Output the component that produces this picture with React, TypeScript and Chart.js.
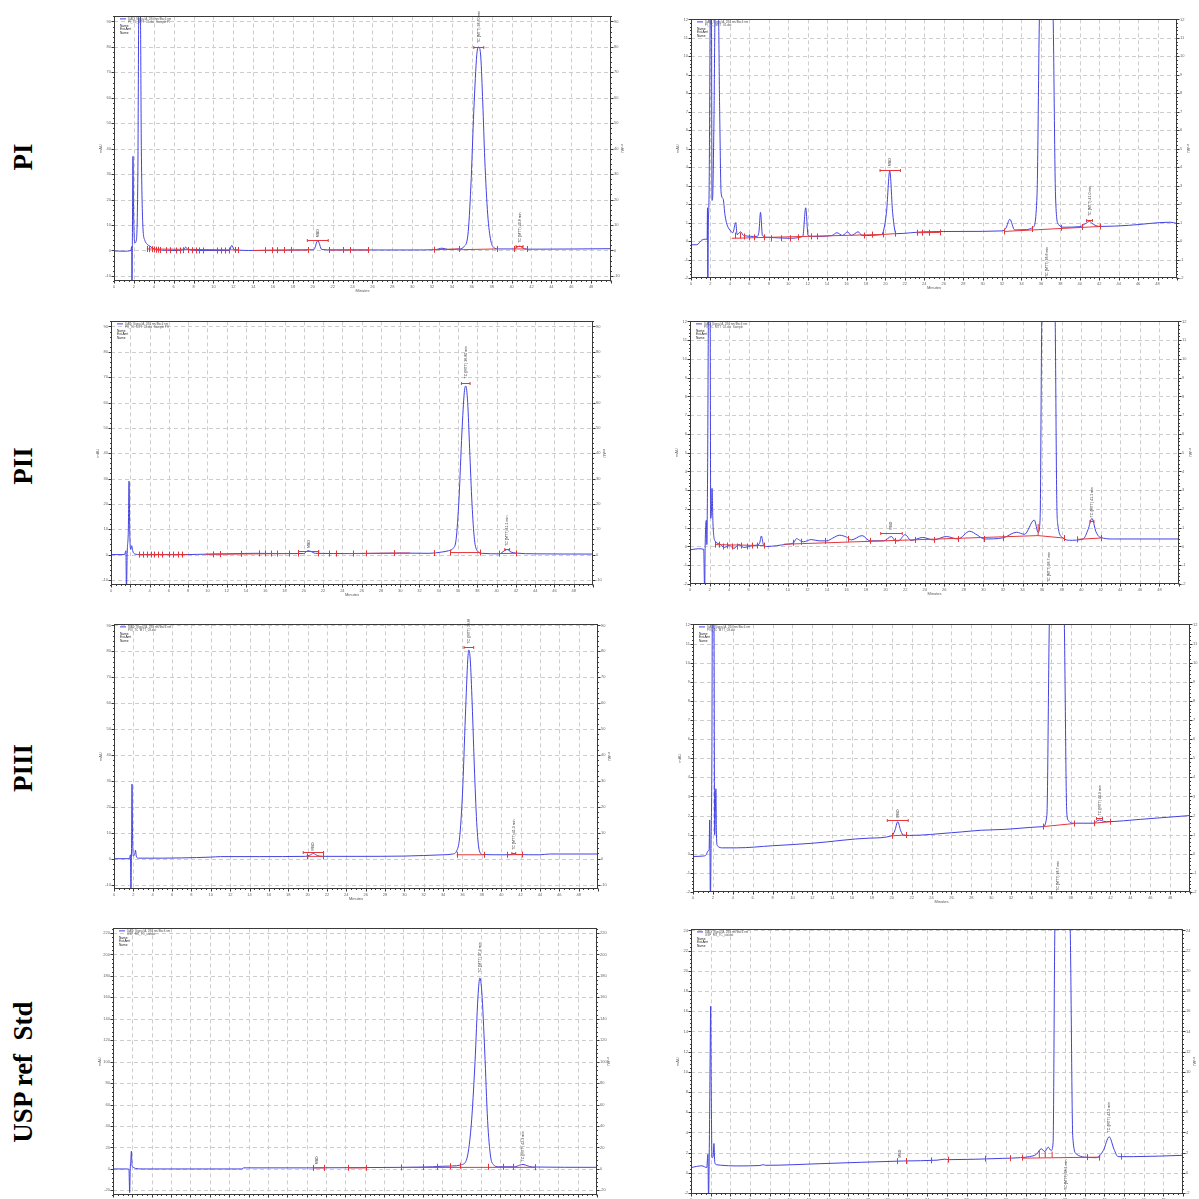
import { useEffect, useRef } from "react";
import { Chart, registerables } from "chart.js";

Chart.register(...registerables);

type Pt = [number, number];
type Seg = [number, number, number, number];
type Peak = { t: number; bar: number | null; hw: number; tv: number; text: string };

// ---------- axis tick values ----------
const minuteTicks = [0, 2, 4, 6, 8, 10, 12, 14, 16, 18, 20, 22, 24, 26, 28, 30, 32, 34, 36, 38, 40, 42, 44, 46, 48, 50];
const mauTicksWide = [-10, 0, 10, 20, 30, 40, 50, 60, 70, 80, 90];
const mauTicksZoom = [-2, -1, 0, 1, 2, 3, 4, 5, 6, 7, 8, 9, 10, 11, 12];
const mauTicksStd = [-20, 0, 20, 40, 60, 80, 100, 120, 140, 160, 180, 200, 220];
const mauTicksStdZoom = [-2, 0, 2, 4, 6, 8, 10, 12, 14, 16, 18, 20, 22, 24];

const rowLabels = ["PI", "PII", "PIII", "USP ref  Std"];

// ---------- PI, full scale ----------
const piFullTrace: Pt[] = [
  [0, -0.2], [1.0, -0.3], [1.7, 0], [1.78, 1.5], [1.81, -14], [1.85, 5], [1.91, 37], [1.97, 15], [2.1, 3], [2.25, 4],
  [2.4, 30], [2.5, 95], [2.65, 95], [2.75, 40], [2.9, 10], [3.1, 4], [3.3, 2.6], [3.6, 1.7], [3.9, 0.9], [4.2, 0.3],
  [6.5, 0], [7.0, 0.3], [7.2, 1.3], [7.5, 0.2], [9, 0], [11.6, 0], [11.85, 2.0], [12.1, 0.3], [14, 0], [18, 0.2],
  [20.1, 0.3], [20.5, 3.9], [20.9, 0.4], [22, 0.2], [30, 0.2], [32.3, 0.3], [33, 0.9], [33.6, 0.4], [34.8, 0.6],
  [35.2, 1.5], [35.6, 6], [35.9, 25], [36.2, 55], [36.5, 77], [36.7, 80], [36.9, 76], [37.1, 58], [37.3, 36],
  [37.6, 14], [37.9, 4], [38.2, 1.2], [38.7, 0.6], [40.2, 0.6], [40.8, 1.7], [41.3, 0.6], [42, 0.5], [50, 0.7],
];
const piFullSegs: Seg[] = [
  [3.3, 0.6, 12.5, 0.2], [14, 0, 19.5, 0.2], [21.6, 0.2, 25.6, 0.2], [32.2, 0.3, 34.7, 0.6], [34.7, 0.3, 38.5, 0.6], [40.2, 0.6, 41.5, 0.6],
];
const piFullMarks: Pt[] = [
  [3.3, 0.6], [3.5, 0.5], [3.8, 0.5], [4.0, 0.4], [4.2, 0.3], [4.4, 0.3], [4.6, 0.2], [5.2, 0.1], [5.6, 0.1], [6.2, 0],
  [6.6, 0], [6.9, 0.1], [7.4, 0.2], [7.8, 0.1], [8.2, 0], [8.6, 0], [9.0, 0], [10.4, 0], [10.8, 0], [11.2, 0],
  [11.6, 0], [12.2, 0.2], [12.5, 0.2], [15.2, 0.1], [15.9, 0.1], [16.4, 0.1], [17.1, 0.2], [17.8, 0.2], [19.5, 0.2],
  [21.6, 0.2], [23.0, 0.2], [23.7, 0.2], [25.6, 0.2], [32.2, 0.3], [34.7, 0.6], [38.5, 0.6], [40.2, 0.6], [41.5, 0.6],
];
const piFullPeaks: Peak[] = [
  { t: 36.7, bar: 80, hw: 0.5, tv: 81.5, text: "TC (MTT) 36.70 min" },
  { t: 20.5, bar: 4.3, hw: 1.05, tv: 5.2, text: "MBD" },
  { t: 40.8, bar: 1.8, hw: 0.35, tv: 3.0, text: "TC (MTT) 40.8 min" },
];

// ---------- PI, zoomed ----------
const piZoomTrace: Pt[] = [
  [0, -0.2], [0.6, -0.2], [1.1, 0.05], [1.5, 0.1], [1.66, 0.1], [1.7, 1.8], [1.73, -2.5], [1.77, 0.3], [1.87, 3],
  [2.0, 13], [2.1, 13], [2.16, 2.2], [2.22, 2.3], [2.35, 6], [2.5, 13], [2.8, 13], [2.95, 7], [3.1, 2.6], [3.3, 2.3],
  [3.5, 1.4], [3.7, 0.9], [4.0, 0.6], [4.3, 0.45], [4.6, 1.0], [4.75, 0.35], [5.1, 0.5], [5.4, 0.3], [6.8, 0.25],
  [7.0, 0.55], [7.15, 1.55], [7.35, 0.3], [8, 0.2], [10, 0.15], [11.5, 0.25], [11.8, 1.8], [12.05, 0.3], [12.5, 0.25],
  [14.5, 0.3], [15, 0.45], [15.6, 0.3], [16.1, 0.5], [16.5, 0.3], [17.2, 0.5], [17.6, 0.3], [19.6, 0.35], [20.1, 1.5],
  [20.45, 3.8], [20.75, 1.5], [21.1, 0.4], [24, 0.5], [28, 0.52], [32, 0.55], [32.4, 0.7], [32.8, 1.18], [33.3, 0.6],
  [34.5, 0.62], [35.2, 0.75], [35.6, 2.5], [35.9, 13], [37.2, 13], [37.5, 2.5], [37.8, 0.9], [38.4, 0.75], [40.0, 0.78],
  [40.6, 0.95], [41.0, 1.06], [41.4, 0.9], [42.1, 0.79], [45, 0.85], [49.3, 1.02], [50, 0.95],
];
const piZoomSegs: Seg[] = [
  [4.2, 0.15, 19.8, 0.36], [19.8, 0.36, 21.0, 0.4], [23.2, 0.45, 25.6, 0.47], [32.2, 0.52, 42.1, 0.79],
];
const piZoomMarks: Pt[] = [
  [4.5, 0.3], [5.0, 0.3], [5.5, 0.25], [6.0, 0.2], [6.5, 0.2], [7.5, 0.2], [8.2, 0.15], [9.3, 0.15], [10.2, 0.15],
  [11.0, 0.2], [12.3, 0.25], [13.0, 0.25], [17.8, 0.3], [18.6, 0.35], [19.8, 0.36], [21.0, 0.4], [23.2, 0.45],
  [23.8, 0.45], [24.5, 0.45], [25.6, 0.47], [32.2, 0.52], [35.1, 0.65], [38.1, 0.72], [40.2, 0.76], [42.1, 0.79],
];
const piZoomPeaks: Peak[] = [
  { t: 20.5, bar: 3.85, hw: 1.05, tv: 4.05, text: "MBD" },
  { t: 36.6, bar: null, hw: 0, tv: -1.95, text: "TC (MTT) 36.6 min" },
  { t: 41.0, bar: 1.15, hw: 0.3, tv: 1.35, text: "TC (MTT) 41.0 min" },
];

// ---------- PII, full scale ----------
const piiFullTrace: Pt[] = [
  [0, 0], [1.4, 0], [1.55, 1.5], [1.6, -15], [1.68, 0.5], [1.8, 10], [1.87, 29], [1.95, 8], [2.05, 2], [2.15, 3.5],
  [2.25, 1.5], [2.5, 0.2], [3, 0], [8, 0], [9, 0.1], [12, 0.3], [15, 0.5], [18, 0.4], [20, 0.4], [20.4, 1.5],
  [20.7, 1.3], [21.2, 0.5], [25, 0.4], [30, 0.6], [33, 0.5], [34.3, 1.0], [35.0, 1.5], [35.5, 2.5], [35.8, 6],
  [36.1, 22], [36.4, 48], [36.65, 64], [36.8, 66.5], [37.0, 60], [37.2, 42], [37.45, 20], [37.7, 6], [38.0, 1.5],
  [38.5, 0.5], [40.3, 0.3], [40.8, 1.5], [41.1, 2.0], [41.5, 1.0], [42, 0.6], [44, 0.3], [50, 0.2],
];
const piiFullSegs: Seg[] = [
  [2.8, 0, 8.0, 0], [9.8, 0.1, 18.5, 0.4], [24, 0.4, 31, 0.6], [35.2, 0.8, 38.3, 0.8], [40.3, 0.4, 42, 0.5],
];
const piiFullMarks: Pt[] = [
  [2.9, 0], [3.3, 0], [3.7, 0], [4.1, 0], [4.5, 0], [4.9, 0], [5.3, 0], [6.0, 0], [6.4, 0], [7.0, 0], [7.4, 0],
  [10.6, 0.1], [11.3, 0.2], [13.5, 0.3], [15.4, 0.5], [16.0, 0.5], [16.6, 0.4], [17.2, 0.4], [18.5, 0.4],
  [19.4, 0.4], [21.5, 0.5], [22.6, 0.4], [23.3, 0.4], [25.1, 0.4], [26.5, 0.5], [29.4, 0.6], [33.5, 0.6],
  [35.2, 0.8], [38.3, 0.8], [40.3, 0.4], [42, 0.5],
];
const piiFullPeaks: Peak[] = [
  { t: 36.8, bar: 67.8, hw: 0.45, tv: 69.5, text: "TC (MTT) 36.80 min" },
  { t: 20.5, bar: 1.6, hw: 1.05, tv: 2.6, text: "MBD" },
  { t: 41.1, bar: 2.2, hw: 0.25, tv: 3.4, text: "TC (MTT) 41.1 min" },
];

// ---------- PII, zoomed ----------
const piiZoomTrace: Pt[] = [
  [0, -0.18], [0.85, -0.12], [1.4, -0.15], [1.5, -2.5], [1.55, 0], [1.68, 1.4], [1.72, 0.1], [1.8, 4], [1.9, 13],
  [2.05, 13], [2.12, 1.5], [2.2, 2.0], [2.25, 3.1], [2.35, 1.2], [2.55, 0.3], [3.0, 0.15], [3.5, -0.05], [4.0, 0.05],
  [4.5, -0.1], [5.0, 0.1], [5.5, -0.05], [6.5, 0.05], [7.1, 0.15], [7.3, 0.56], [7.5, 0.1], [7.8, 0], [9.9, 0.12],
  [10.6, 0.2], [10.9, 0.42], [11.3, 0.3], [11.6, 0.25], [12.4, 0.37], [13.2, 0.3], [14.0, 0.3], [14.6, 0.45],
  [15.3, 0.6], [16.0, 0.5], [16.5, 0.35], [17.6, 0.58], [18.4, 0.3], [19.8, 0.3], [20.6, 0.53], [21.0, 0.3],
  [21.3, 0.3], [22.0, 0.63], [22.6, 0.32], [23.8, 0.48], [24.9, 0.35], [26.2, 0.53], [27.4, 0.4], [28.6, 0.81],
  [29.4, 0.6], [30.1, 0.4], [32.0, 0.46], [33.4, 0.76], [34.2, 0.65], [35.2, 1.41], [35.6, 0.75], [35.8, 1.5],
  [36.0, 13], [37.3, 13], [37.5, 2.5], [37.6, 1.2], [38.1, 0.47], [38.8, 0.33], [40.2, 0.4], [40.7, 0.9],
  [41.1, 1.5], [41.5, 0.8], [41.9, 0.5], [43.3, 0.4], [50, 0.4],
];
const piiZoomSegs: Seg[] = [
  [9.6, 0.12, 35.6, 0.58], [35.6, 0.58, 38.2, 0.45], [39.6, 0.38, 42, 0.45], [35.6, 0.58, 35.6, 1.2],
  [2.6, 0.1, 7.6, 0.05],
];
const piiZoomMarks: Pt[] = [
  [2.6, 0.1], [3.0, 0.1], [3.4, 0.0], [3.8, 0.05], [4.3, 0.0], [4.8, 0.0], [5.2, 0.05], [5.8, 0.0], [6.3, 0.05],
  [6.8, 0.05], [7.6, 0.05], [10.5, 0.2], [11.4, 0.25], [13.8, 0.3], [16.2, 0.4], [18.4, 0.3], [21.0, 0.3],
  [23.0, 0.35], [24.9, 0.35], [27.4, 0.4], [30.1, 0.4], [32.0, 0.46], [38.2, 0.45], [39.6, 0.38], [42, 0.45],
];
const piiZoomPeaks: Peak[] = [
  { t: 20.6, bar: 0.72, hw: 1.1, tv: 0.9, text: "MBD" },
  { t: 36.7, bar: null, hw: 0, tv: -1.9, text: "TC (MTT) 36.7 min" },
  { t: 41.1, bar: 1.35, hw: 0.2, tv: 1.55, text: "TC (MTT) 41.1 min" },
];

// ---------- PIII, full scale ----------
const piiiFullTrace: Pt[] = [
  [0, 0], [1.6, 0], [1.7, 1.5], [1.75, -14], [1.8, 0.5], [1.82, 8], [1.86, 28.8], [1.92, 8], [2.0, 1], [2.15, 2],
  [2.22, 3.3], [2.3, 1], [2.5, 0.2], [5, 0.2], [7, 0.3], [10, 0.6], [11, 0.8], [15, 0.8], [19.8, 0.9], [20.2, 1.3],
  [20.6, 2.0], [21.0, 1.2], [21.5, 0.9], [25, 0.9], [30, 1.0], [34, 1.5], [35.0, 1.8], [35.4, 3], [35.7, 8],
  [36.0, 25], [36.3, 55], [36.55, 77], [36.66, 80.5], [36.8, 77], [37.0, 60], [37.25, 33], [37.5, 12], [37.75, 3],
  [38.1, 1.6], [40, 1.5], [41.0, 1.6], [41.3, 2.0], [41.6, 1.6], [44, 1.5], [45, 1.8], [50, 1.8],
];
const piiiFullSegs: Seg[] = [[19.9, 0.9, 21.6, 0.9], [35.4, 1.5, 38.2, 1.5], [40.6, 1.5, 42.1, 1.6]];
const piiiFullMarks: Pt[] = [[19.9, 0.9], [21.6, 0.9], [35.4, 1.5], [38.2, 1.5], [40.6, 1.5], [42.1, 1.6]];
const piiiFullPeaks: Peak[] = [
  { t: 36.66, bar: 81.5, hw: 0.5, tv: 83, text: "TC (MTT) 36.66 min" },
  { t: 20.6, bar: 2.6, hw: 1.05, tv: 3.2, text: "MBD" },
  { t: 41.3, bar: 2.0, hw: 0.2, tv: 3.4, text: "TC (MTT) 41.3 min" },
];

// ---------- PIII, zoomed ----------
const piiiZoomTrace: Pt[] = [
  [0, -0.14], [1.0, -0.12], [1.34, -0.05], [1.5, 0.15], [1.62, 0.2], [1.68, 1.77], [1.75, -2.5], [1.82, 0.5],
  [1.9, 5], [1.95, 13], [2.1, 13], [2.18, 1.0], [2.26, 2.5], [2.3, 3.4], [2.36, 1.0], [2.45, 0.42], [3.0, 0.31],
  [4.4, 0.31], [8, 0.42], [12, 0.55], [17.8, 0.82], [20.0, 0.94], [20.3, 1.2], [20.6, 1.68], [20.9, 1.2],
  [21.2, 0.96], [21.8, 0.96], [26, 1.1], [30, 1.25], [35.2, 1.42], [35.6, 2], [35.9, 13], [37.3, 13], [37.6, 2.2],
  [37.75, 1.75], [38.1, 1.6], [40.3, 1.6], [40.6, 1.7], [40.9, 1.77], [41.3, 1.7], [41.6, 1.68], [45, 1.8], [50, 2.0],
];
const piiiZoomSegs: Seg[] = [[20.0, 0.94, 21.4, 0.98], [35.2, 1.42, 38.3, 1.58], [40.3, 1.6, 42.0, 1.68]];
const piiiZoomMarks: Pt[] = [[20.0, 0.94], [21.4, 0.98], [35.2, 1.42], [38.3, 1.58], [40.3, 1.6], [42, 1.68]];
const piiiZoomPeaks: Peak[] = [
  { t: 20.6, bar: 1.77, hw: 1.05, tv: 1.9, text: "MBD" },
  { t: 36.7, bar: null, hw: 0, tv: -1.95, text: "TC (MTT) 36.7 min" },
  { t: 40.9, bar: 1.85, hw: 0.3, tv: 2.0, text: "TC (MTT) 40.9 min" },
];

// ---------- USP reference standard, full scale ----------
const uspFullTrace: Pt[] = [
  [0, 0], [1.5, 0], [1.65, -0.5], [1.72, -22], [1.78, 0], [1.85, 10], [1.9, 16.6], [1.97, 3], [2.1, 1.5], [2.3, 0.5],
  [3, 0], [13.3, 0], [13.5, 1], [15, 1], [20, 1], [25, 1.2], [30, 1.5], [33, 2], [34, 2.5], [35.5, 3], [36.0, 4],
  [36.5, 8], [37.0, 40], [37.4, 100], [37.7, 160], [37.9, 178], [38.1, 165], [38.4, 110], [38.7, 45], [39.0, 12],
  [39.3, 4], [39.8, 2], [41.5, 2], [42.0, 3.5], [42.35, 4.2], [42.8, 3], [43.3, 1.8], [50, 1.5],
];
const uspFullSegs: Seg[] = [[20.7, 1, 21.8, 1], [24.3, 1, 26.1, 1], [29.8, 1.4, 43.6, 1.5]];
const uspFullMarks: Pt[] = [
  [20.7, 1], [21.8, 1], [24.3, 1], [26.1, 1], [29.8, 1.4], [32.0, 1.8], [33.5, 2], [34.8, 2.5], [35.8, 3],
  [38.7, 2], [40.3, 2], [41.3, 2], [43.6, 1.6],
];
const uspFullPeaks: Peak[] = [
  { t: 37.9, bar: null, hw: 0, tv: 183, text: "TC (MTT) 37.9 min" },
  { t: 21.1, bar: null, hw: 0, tv: 4.3, text: "MBD" },
  { t: 42.35, bar: null, hw: 0, tv: 7, text: "TC (MTT) 42.3 min" },
];

// ---------- USP reference standard, zoomed ----------
const uspZoomTrace: Pt[] = [
  [0, 0.52], [1.1, 0.69], [1.6, 0.52], [1.72, 1.83], [1.78, -2.5], [1.84, 0.6], [1.95, 12], [2.0, 16.5], [2.06, 8],
  [2.13, 1.5], [2.25, 1.6], [2.33, 2.9], [2.42, 1.0], [2.6, 0.8], [3.0, 0.75], [4.6, 0.68], [7, 0.72], [7.3, 0.8],
  [7.6, 0.74], [13.1, 0.9], [21.6, 1.17], [25, 1.25], [25.8, 1.35], [26.2, 1.3], [31.7, 1.43], [33.5, 1.5],
  [34.4, 1.6], [35.1, 1.83], [35.6, 2.38], [35.95, 2.1], [36.3, 2.54], [36.6, 2.2], [36.8, 3], [37.0, 25],
  [38.5, 25], [38.8, 3.5], [39.2, 1.83], [40.0, 1.55], [41.2, 1.5], [41.9, 2.2], [42.5, 3.56], [43.0, 2.3],
  [43.4, 1.6], [45, 1.6], [50, 1.73],
];
const uspZoomSegs: Seg[] = [
  [33.7, 1.45, 41.6, 1.55], [35.4, 1.47, 35.4, 2.2], [36.0, 1.48, 36.0, 2.1], [36.7, 1.5, 36.7, 2.1],
];
const uspZoomMarks: Pt[] = [
  [20.9, 1.15], [21.9, 1.17], [24.4, 1.23], [26.1, 1.3], [29.9, 1.4], [32.4, 1.45], [33.6, 1.5], [40.2, 1.55],
  [41.5, 1.5], [43.7, 1.6],
];
const uspZoomPeaks: Peak[] = [
  { t: 21.2, bar: null, hw: 0, tv: 1.5, text: "MBD" },
  { t: 38.1, bar: null, hw: 0, tv: -1.7, text: "TC (MTT) 38.1 min" },
  { t: 42.5, bar: null, hw: 0, tv: 4.0, text: "TC (MTT) 42.5 min" },
];

// ---------- panel definitions ----------
type PanelDef = {
  box: [number, number, number, number];
  trace: Pt[];
  yMin: number;
  yMax: number;
  yTicks: number[];
  segs: Seg[];
  marks: Pt[];
  peaks: Peak[];
  legend: [string, string];
};

const panels: PanelDef[] = [
  { box: [114, 14, 611, 281], trace: piFullTrace, yMin: -12, yMax: 92, yTicks: mauTicksWide, segs: piFullSegs, marks: piFullMarks, peaks: piFullPeaks, legend: ["DAD: Signal A, 280 nm/Bw:4 nm", "PI_TC_MTT_01.dat  Sample PI"] },
  { box: [691, 17, 1177, 278], trace: piZoomTrace, yMin: -2, yMax: 12, yTicks: mauTicksZoom, segs: piZoomSegs, marks: piZoomMarks, peaks: piZoomPeaks, legend: ["DAD: Signal A, 280 nm/Bw:4 nm", "PI_TC_MTT_01.dat"] },
  { box: [111, 319, 593, 585], trace: piiFullTrace, yMin: -12, yMax: 92, yTicks: mauTicksWide, segs: piiFullSegs, marks: piiFullMarks, peaks: piiFullPeaks, legend: ["DAD: Signal A, 280 nm/Bw:4 nm", "PII_TC_MTT_02.dat  Sample PII"] },
  { box: [690, 319, 1179, 584], trace: piiZoomTrace, yMin: -2, yMax: 12, yTicks: mauTicksZoom, segs: piiZoomSegs, marks: piiZoomMarks, peaks: piiZoomPeaks, legend: ["DAD: Signal A, 280 nm/Bw:4 nm", "PII_TC_MTT_02.dat  Sample"] },
  { box: [114, 622, 598, 889], trace: piiiFullTrace, yMin: -11.7, yMax: 90.4, yTicks: mauTicksWide, segs: piiiFullSegs, marks: piiiFullMarks, peaks: piiiFullPeaks, legend: ["DAD: Signal A, 280 nm/Bw:4 nm", "PIII_TC_MTT_03.dat"] },
  { box: [693, 622, 1190, 892], trace: piiiZoomTrace, yMin: -2, yMax: 12, yTicks: mauTicksZoom, segs: piiiZoomSegs, marks: piiiZoomMarks, peaks: piiiZoomPeaks, legend: ["DAD: Signal A, 280 nm/Bw:4 nm", "PIII_TC_MTT_03.dat"] },
  { box: [113, 926, 597, 1195], trace: uspFullTrace, yMin: -24.3, yMax: 224.3, yTicks: mauTicksStd, segs: uspFullSegs, marks: uspFullMarks, peaks: uspFullPeaks, legend: ["DAD: Signal A, 280 nm/Bw:4 nm", "USP_RS_TC_std.dat"] },
  { box: [691, 927, 1183, 1194], trace: uspZoomTrace, yMin: -2.1, yMax: 24.1, yTicks: mauTicksStdZoom, segs: uspZoomSegs, marks: uspZoomMarks, peaks: uspZoomPeaks, legend: ["DAD: Signal A, 280 nm/Bw:4 nm", "USP_RS_TC_std.dat"] },
];

const BLUE = "#4242e2";
const RED = "#e4363a";
const LW = 16; // left axis width
const RW = 14; // right axis width
const XH = 12; // x axis height
const PT = 3; // top padding

function makeDecor(p: PanelDef) {
  return {
    id: "decor",
    beforeDatasetsDraw(chart: any) {
      const { ctx, chartArea: a, scales } = chart;
      const xs = scales.x;
      const ys = scales.y;
      ctx.save();
      ctx.strokeStyle = "#cdcdcd";
      ctx.lineWidth = 1;
      ctx.setLineDash([4, 3]);
      ctx.beginPath();
      for (const v of minuteTicks) {
        if (v <= 0 || v >= 50) continue;
        const px = Math.round(xs.getPixelForValue(v)) + 0.5;
        ctx.moveTo(px, a.top);
        ctx.lineTo(px, a.bottom);
      }
      for (const v of p.yTicks) {
        const py = Math.round(ys.getPixelForValue(v)) + 0.5;
        if (py <= a.top + 1 || py >= a.bottom - 1) continue;
        ctx.moveTo(a.left, py);
        ctx.lineTo(a.right, py);
      }
      ctx.stroke();
      ctx.restore();
    },
    afterDatasetsDraw(chart: any) {
      const { ctx, chartArea: a, scales } = chart;
      const xs = scales.x;
      const ys = scales.y;
      const X = (t: number) => xs.getPixelForValue(t);
      const Y = (v: number) => ys.getPixelForValue(v);

      // integration baselines & markers (clipped)
      ctx.save();
      ctx.beginPath();
      ctx.rect(a.left, a.top, a.right - a.left, a.bottom - a.top);
      ctx.clip();
      ctx.strokeStyle = RED;
      ctx.lineWidth = 1;
      ctx.beginPath();
      for (const [t1, v1, t2, v2] of p.segs) {
        ctx.moveTo(X(t1), Y(v1));
        ctx.lineTo(X(t2), Y(v2));
      }
      for (const [t, v] of p.marks) {
        const px = Math.round(X(t)) + 0.5;
        const py = Y(v);
        ctx.moveTo(px, py - 3);
        ctx.lineTo(px, py + 3);
      }
      for (const pk of p.peaks) {
        if (pk.bar === null) continue;
        const x1 = X(pk.t - pk.hw);
        const x2 = X(pk.t + pk.hw);
        const py = Math.round(Y(pk.bar)) + 0.5;
        ctx.moveTo(x1, py);
        ctx.lineTo(x2, py);
        ctx.moveTo(x1, py - 1.5);
        ctx.lineTo(x1, py + 1.5);
        ctx.moveTo(x2, py - 1.5);
        ctx.lineTo(x2, py + 1.5);
      }
      ctx.stroke();
      ctx.restore();

      // peak labels (rotated text)
      ctx.save();
      ctx.fillStyle = "#333";
      ctx.font = "3.6px Arial, sans-serif";
      ctx.textAlign = "left";
      ctx.textBaseline = "middle";
      for (const pk of p.peaks) {
        ctx.save();
        ctx.translate(X(pk.t), Y(pk.tv));
        ctx.rotate(-Math.PI / 2);
        ctx.fillText(pk.text, 0, 0);
        ctx.restore();
      }
      ctx.restore();

      // legend block
      ctx.save();
      ctx.strokeStyle = BLUE;
      ctx.lineWidth = 1;
      ctx.beginPath();
      ctx.moveTo(a.left + 6, a.top + 2.5);
      ctx.lineTo(a.left + 12, a.top + 2.5);
      ctx.stroke();
      ctx.fillStyle = "#555";
      ctx.font = "3px Arial, sans-serif";
      ctx.textBaseline = "middle";
      ctx.fillText(p.legend[0], a.left + 14, a.top + 2.5);
      ctx.fillText(p.legend[1], a.left + 14, a.top + 5.5);
      ctx.fillStyle = "#222";
      ctx.font = "3.2px Arial, sans-serif";
      ctx.fillText("Name", a.left + 6, a.top + 9.5);
      ctx.fillText("Ext.Amt", a.left + 6, a.top + 13);
      ctx.fillText("Name", a.left + 6, a.top + 16.5);
      ctx.restore();

      // frame and tick marks
      ctx.save();
      ctx.strokeStyle = "#3a3a3a";
      ctx.lineWidth = 1;
      const l = Math.round(a.left) + 0.5;
      const r = Math.round(a.right) - 0.5;
      const tp = Math.round(a.top) + 0.5;
      const b = Math.round(a.bottom) - 0.5;
      ctx.strokeRect(l, tp, r - l, b - tp);
      ctx.beginPath();
      for (let k = 0; k <= 100; k++) {
        const t = k * 0.5;
        const px = Math.round(X(t)) + 0.5;
        const len = k % 4 === 0 ? 3 : 1.5;
        ctx.moveTo(px, b);
        ctx.lineTo(px, b + len);
      }
      const step = p.yTicks[1] - p.yTicks[0];
      const minor = step / 5;
      const startK = Math.ceil(p.yMin / minor);
      const endK = Math.floor(p.yMax / minor);
      for (let k = startK; k <= endK; k++) {
        const v = k * minor;
        const py = Math.round(Y(v)) + 0.5;
        const len = k % 5 === 0 ? 3 : 1.5;
        ctx.moveTo(l, py);
        ctx.lineTo(l - len, py);
        ctx.moveTo(r, py);
        ctx.lineTo(r + len, py);
      }
      ctx.stroke();
      ctx.restore();
    },
  };
}

function Panel({ p }: { p: PanelDef }) {
  const ref = useRef<HTMLCanvasElement | null>(null);
  const [L, T, R, B] = p.box;
  const w = R - L + LW + RW;
  const h = B - T + PT + XH;

  useEffect(() => {
    if (!ref.current) return;
    const tickFont = { size: 4, family: "Arial, sans-serif" };
    const yScale = (pos: "left" | "right", width: number) => ({
      type: "linear" as const,
      position: pos,
      min: p.yMin,
      max: p.yMax,
      afterBuildTicks: (s: any) => {
        s.ticks = p.yTicks.map((v) => ({ value: v }));
      },
      afterFit: (s: any) => {
        s.width = width;
      },
      ticks: {
        font: tickFont,
        color: "#666",
        padding: 3,
        callback: (v: any) => String(v),
      },
      grid: { display: false, drawTicks: false },
      border: { display: false },
      title: { display: true, text: "mAU", font: tickFont, color: "#666", padding: 0 },
    });
    const chart = new Chart(ref.current, {
      type: "line",
      data: {
        datasets: [
          {
            data: p.trace.map(([x, y]) => ({ x, y })),
            borderColor: BLUE,
            borderWidth: 1,
            pointRadius: 0,
            fill: false,
            cubicInterpolationMode: "monotone",
          },
        ],
      },
      options: {
        animation: false,
        responsive: false,
        maintainAspectRatio: false,
        devicePixelRatio: 1,
        layout: { padding: { top: PT, left: 0, right: 0, bottom: 0 } },
        plugins: { legend: { display: false }, tooltip: { enabled: false } },
        scales: {
          x: {
            type: "linear",
            min: 0,
            max: 50,
            afterBuildTicks: (s: any) => {
              s.ticks = minuteTicks.map((v) => ({ value: v }));
            },
            afterFit: (s: any) => {
              s.height = XH;
            },
            ticks: {
              font: tickFont,
              color: "#666",
              padding: 3,
              maxRotation: 0,
              autoSkip: false,
              callback: (v: any) => (Number(v) >= 50 ? "" : String(v)),
            },
            grid: { display: false, drawTicks: false },
            border: { display: false },
            title: { display: true, text: "Minutes", font: tickFont, color: "#555", padding: 0 },
          },
          y: yScale("left", LW),
          y2: yScale("right", RW),
        },
      } as any,
      plugins: [makeDecor(p)],
    });
    return () => chart.destroy();
  }, [p]);

  return (
    <canvas
      ref={ref}
      width={w}
      height={h}
      style={{ position: "absolute", left: L - LW, top: T - PT, width: w, height: h }}
    />
  );
}

const labelCenters = [157, 466, 768, 1072];

export default function App() {
  return (
    <div
      style={{
        position: "absolute",
        left: 0,
        top: 0,
        width: 1199,
        height: 1199,
        overflow: "hidden",
        background: "#fff",
      }}
    >
      {rowLabels.map((txt, i) => (
        <div
          key={txt}
          style={{
            position: "absolute",
            left: 22.5,
            top: labelCenters[i],
            transform: "translate(-50%, -50%) rotate(-90deg)",
            whiteSpace: "pre",
            fontFamily: "'Liberation Serif', 'Times New Roman', serif",
            fontWeight: "bold",
            fontSize: 27,
            lineHeight: 1,
            color: "#000",
          }}
        >
          {txt}
        </div>
      ))}
      {panels.map((p, i) => (
        <Panel key={i} p={p} />
      ))}
    </div>
  );
}
